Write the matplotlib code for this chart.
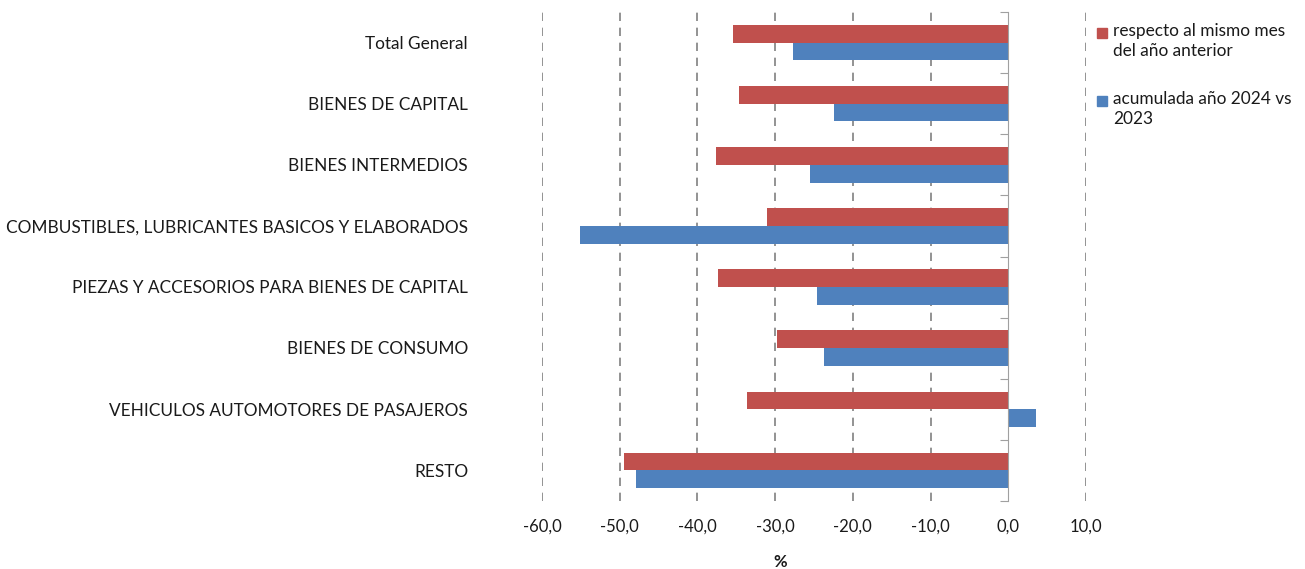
import numpy as np
import matplotlib.pyplot as plt
from matplotlib.patches import Rectangle
from matplotlib.ticker import FuncFormatter
from matplotlib.transforms import blended_transform_factory

plt.rcParams['font.family'] = ['Lato', 'DejaVu Sans']

categorias = [
    "Total General",
    "BIENES DE CAPITAL",
    "BIENES INTERMEDIOS",
    "COMBUSTIBLES, LUBRICANTES BASICOS Y ELABORADOS",
    "PIEZAS Y ACCESORIOS PARA BIENES DE CAPITAL",
    "BIENES DE CONSUMO",
    "VEHICULOS AUTOMOTORES DE PASAJEROS",
    "RESTO",
]
mismo_mes = [-35.4, -34.7, -37.6, -31.1, -37.3, -29.7, -33.6, -49.4]
acumulada = [-27.7, -22.4, -25.5, -55.1, -24.6, -23.7, 3.6, -47.9]
serie_labels = ["respecto al mismo mes\ndel año anterior", "acumulada año 2024 vs\n2023"]
colores = ["#C0504D", "#4F81BD"]

W, H = 1305, 569
fig = plt.figure(figsize=(W / 100, H / 100), dpi=100)
ax = fig.add_axes([542 / W, 1 - 501 / H, (1086 - 542) / W, (501 - 12) / H])

y = np.arange(len(categorias))
h = 0.29
ax.barh(y - h / 2, mismo_mes, height=h, color=colores[0], zorder=3)
ax.barh(y + h / 2, acumulada, height=h, color=colores[1], zorder=3)

ax.set_xlim(-60, 10)
ax.set_ylim(len(categorias) - 0.5, -0.5)

# dashed vertical gridlines, solid axis line at zero
for xv in [-60, -50, -40, -30, -20, -10, 10]:
    ax.axvline(xv, color="#808080", linestyle=(0, (5, 4)), linewidth=1.2, zorder=1)

for s in ["top", "right", "bottom"]:
    ax.spines[s].set_visible(False)
ax.spines["left"].set_position(("data", 0))
ax.spines["left"].set_color("#A0A0A0")
ax.spines["left"].set_zorder(4)
ax.set_yticks(np.arange(len(categorias) + 1) - 0.5)
ax.set_yticklabels([])
ax.tick_params(axis="y", length=6, color="#A0A0A0", direction="out")

# category labels sit at the far left, not next to the zero axis
trans = blended_transform_factory(fig.transFigure, ax.transData)
for i, cat in enumerate(categorias):
    ax.text(468 / W, i + 0.02, cat, transform=trans, ha="right", va="center",
            fontsize=12.4, color="#1a1a1a")

ax.set_xticks(np.arange(-60, 11, 10))
ax.xaxis.set_major_formatter(FuncFormatter(lambda v, p: f"{v:.1f}".replace(".", ",")))
ax.tick_params(axis="x", length=0, pad=13, labelsize=12, labelcolor="#1a1a1a")
fig.text(780 / W, 1 - 562 / H, "%", ha="center", va="center", fontsize=12, fontweight="bold",
         color="#1a1a1a")

# legend drawn by hand so the marker lines up with the first text line
for lab, col, ytop in zip(serie_labels, colores, [33, 101]):
    fig.patches.append(Rectangle((1097 / W, 1 - (ytop + 5) / H), 10 / W, 10 / H,
                                 transform=fig.transFigure, color=col))
    fig.text(1113 / W, 1 - (ytop - 10) / H, lab, ha="left", va="top", fontsize=12.4,
             linespacing=1.3, color="#1a1a1a")

fig.savefig("out.png", dpi=100)
